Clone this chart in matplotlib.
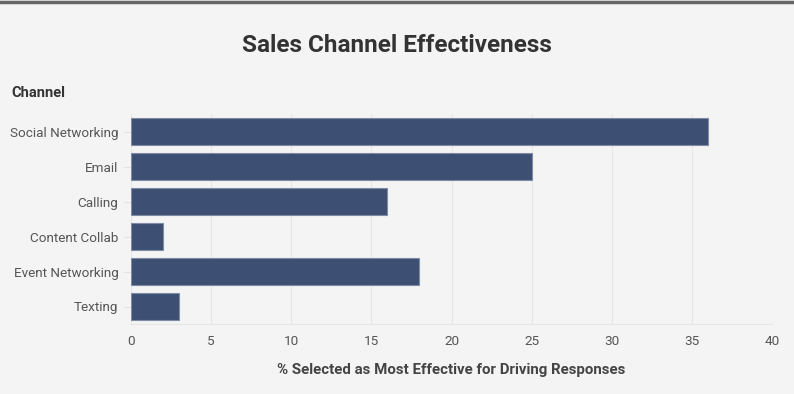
import matplotlib.pyplot as plt
import numpy as np

channels = ["Social Networking", "Email", "Calling", "Content Collab", "Event Networking", "Texting"]
values = [36, 25, 16, 2, 18, 3]
xticks = [0, 5, 10, 15, 20, 25, 30, 35, 40]

plt.rcParams["font.family"] = ["Roboto", "DejaVu Sans"]

bg = "#f4f4f4"
fig = plt.figure(figsize=(7.94, 3.94), dpi=100, facecolor=bg)
ax = fig.add_axes([131/794, 1-324/394, 641/794, 210/394], facecolor=bg)

y = np.arange(len(channels))
ax.barh(y, values, height=0.77, color="#3d4f73", edgecolor="#7f8aa6", linewidth=0.8, zorder=3)

ax.set_ylim(len(channels)-0.5, -0.5)
ax.set_xlim(0, 40)
ax.set_yticks(y)
ax.set_yticklabels(channels)
ax.set_xticks(xticks)
ax.set_xticklabels([str(v) for v in xticks])

ax.tick_params(axis="y", length=5, color="#e2e2e2", labelsize=9.7, labelcolor="#555555", pad=4)
ax.tick_params(axis="x", length=0, labelsize=9.7, labelcolor="#555555", pad=8)
ax.grid(axis="x", color="#e6e6e6", linewidth=0.8, zorder=0)
for s in ["top", "right", "left"]:
    ax.spines[s].set_visible(False)
ax.spines["bottom"].set_color("#e6e6e6")

ax.set_xlabel("% Selected as Most Effective for Driving Responses", fontsize=10.8,
              fontweight="bold", color="#444444", labelpad=11)

fig.text(0.5, 1-45/394, "Sales Channel Effectiveness", ha="center", va="center",
         fontsize=17.5, fontweight="bold", color="#333333")
fig.text(11/794, 1-93/394, "Channel", ha="left", va="center",
         fontsize=10.5, fontweight="bold", color="#333333")

# top border line
fig.add_artist(plt.Line2D([0, 1], [1-1.5/394, 1-1.5/394], color="#666666", linewidth=2.5))

plt.savefig("out.png", dpi=100, facecolor=bg)
plt.close()
